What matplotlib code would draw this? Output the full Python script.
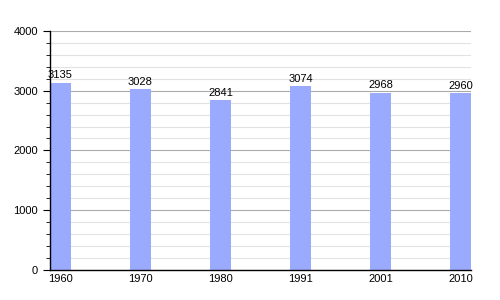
import matplotlib.pyplot as plt
from matplotlib.ticker import MultipleLocator

plt.rcParams["font.family"] = ["Liberation Sans", "DejaVu Sans"]

years = ["1960", "1970", "1980", "1991", "2001", "2010"]
population = [3135, 3028, 2841, 3074, 2968, 2960]

fig = plt.figure(figsize=(5, 3), dpi=100)
ax = fig.add_axes([0.1, 0.1, 0.842, 0.797])

bar_w = 0.26
pos = list(range(len(years)))
ax.bar(pos, population, width=bar_w, align="edge", color="#99aaff", zorder=2)

for p, v in zip(pos, population):
    ax.text(p + bar_w / 2, v + 40, str(v), ha="center", va="bottom", fontsize=8)

ax.set_xlim(0, len(years) - 1 + bar_w)
ax.set_ylim(0, 4000)
ax.set_xticks([p + bar_w / 2 for p in pos])
ax.set_xticklabels(years, fontsize=8)
ax.tick_params(axis="x", length=0, pad=3)

ax.yaxis.set_major_locator(MultipleLocator(1000))
ax.yaxis.set_minor_locator(MultipleLocator(200))
ax.tick_params(axis="y", which="major", length=5, labelsize=8, direction="out")
ax.tick_params(axis="y", which="minor", length=3, direction="out")

ax.grid(axis="y", which="major", color="#aaaaaa", linewidth=0.8, zorder=0)
ax.grid(axis="y", which="minor", color="#e2e2e2", linewidth=0.8, zorder=0)
ax.set_axisbelow(True)

for s in ["top", "right"]:
    ax.spines[s].set_visible(False)
for s in ["left", "bottom"]:
    ax.spines[s].set_linewidth(1.0)
    ax.spines[s].set_color("black")

fig.savefig("out.png")
